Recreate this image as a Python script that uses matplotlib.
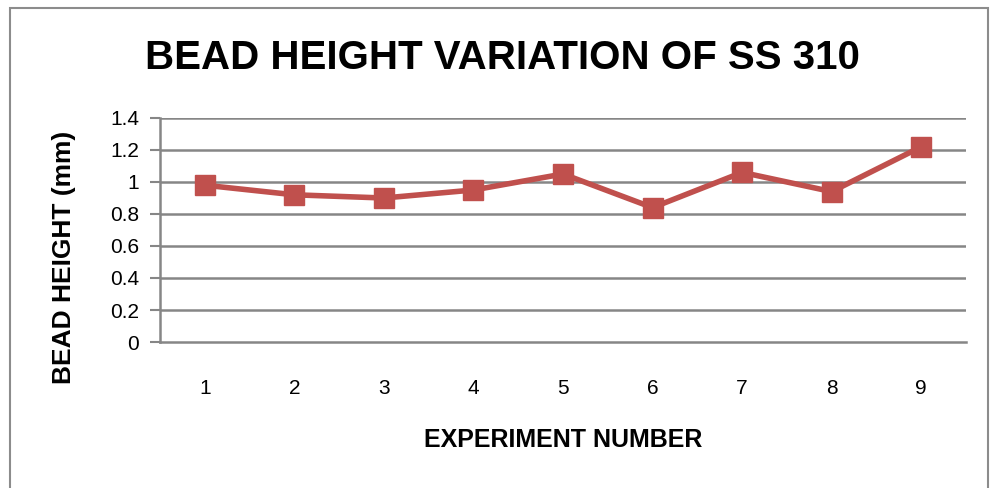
import matplotlib as mpl
import matplotlib.pyplot as plt
from matplotlib.patches import Rectangle

mpl.rcParams['font.family'] = ['Liberation Sans', 'DejaVu Sans']

experiments = [1, 2, 3, 4, 5, 6, 7, 8, 9]
bead_height = [0.98, 0.92, 0.90, 0.95, 1.05, 0.84, 1.06, 0.94, 1.22]
y_ticks = [0, 0.2, 0.4, 0.6, 0.8, 1.0, 1.2, 1.4]
y_labels = ['0', '0.2', '0.4', '0.6', '0.8', '1', '1.2', '1.4']

W, H = 990, 488
fig = plt.figure(figsize=(W / 100, H / 100), dpi=100)
fig.patch.set_facecolor('white')

# chart frame
fig.add_artist(Rectangle((10 / W, -0.05), 978 / W, 1.05 - 8 / H, transform=fig.transFigure,
                         fill=False, edgecolor='#8c8c8c', linewidth=1.5))

ax = fig.add_axes([160 / W, 1 - 342 / H, 806 / W, 224 / H])
grid_c = '#868686'
for v in y_ticks[1:]:
    ax.axhline(v, color=grid_c, linewidth=1.8, zorder=1)

ax.plot(experiments, bead_height, color='#C0504D', linewidth=4, marker='s',
        markersize=14, markeredgecolor='#C0504D', zorder=3, solid_joinstyle='round')

ax.set_xlim(0.5, 9.5)
ax.set_ylim(0, 1.4)
ax.set_yticks(y_ticks)
ax.set_yticklabels(y_labels)
ax.set_xticks(experiments)
ax.set_xticklabels([str(e) for e in experiments])

for s in ['top', 'right']:
    ax.spines[s].set_visible(False)
for s in ['left', 'bottom']:
    ax.spines[s].set_color(grid_c)
    ax.spines[s].set_linewidth(1.8)

ax.tick_params(axis='y', length=7, width=1.5, color=grid_c, labelsize=15, pad=8)
ax.tick_params(axis='x', length=0, labelsize=15, pad=27)

fig.text(502 / W, 1 - 58 / H, 'BEAD HEIGHT VARIATION OF SS 310', ha='center', va='center',
         fontsize=29, fontweight='bold')
fig.text(563 / W, 1 - 440 / H, 'EXPERIMENT NUMBER', ha='center', va='center',
         fontsize=18, fontweight='bold')
fig.text(64 / W, 1 - 257 / H, 'BEAD HEIGHT (mm)', ha='center', va='center',
         rotation=90, fontsize=19, fontweight='bold')

fig.savefig('out.png', dpi=100)
